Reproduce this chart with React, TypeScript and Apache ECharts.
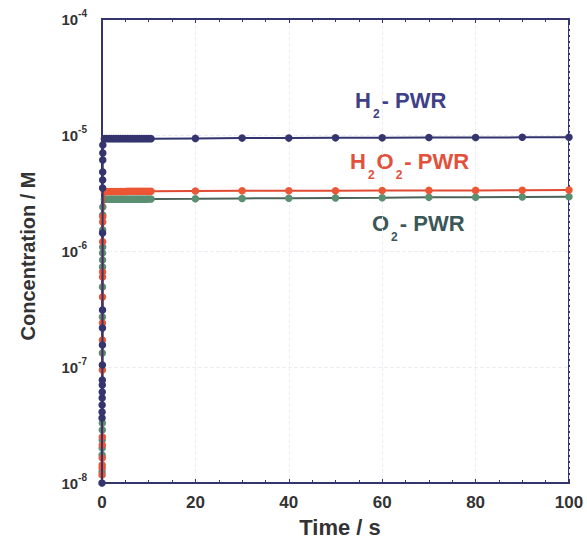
import React, { useEffect, useRef } from "react";
import * as echarts from "echarts";

// ---- axis ticks ----
const xTickLabels = [0, 20, 40, 60, 80, 100];
const yDecades = [1e-8, 1e-7, 1e-6, 1e-5, 1e-4];

// ---- early rise (all at t ~ 0 s) ----
const h2RiseTimes = [0, 0.01, 0.02, 0.03, 0.04, 0.05, 0.06, 0.07, 0.08, 0.09, 0.1, 0.11, 0.12, 0.13, 0.14, 0.15, 0.16, 0.17, 0.18];
const h2Rise = [1.0e-8, 3.63e-8, 4.09e-8, 4.7e-8, 5.4e-8, 6.08e-8, 7.0e-8, 7.73e-8, 1.04e-7, 1.55e-7, 2.17e-7, 3.1e-7, 1.43e-6, 3.49e-6, 4.09e-6, 4.8e-6, 6.08e-6, 7.0e-6, 8.2e-6];

const h2o2RiseTimes = [0.02, 0.03, 0.04, 0.05, 0.06, 0.07, 0.08, 0.09, 0.1, 0.11, 0.12, 0.13, 0.14, 0.15, 0.16];
const h2o2Rise = [1.17e-8, 1.35e-8, 1.43e-8, 1.64e-8, 2.13e-8, 2.49e-8, 9.42e-8, 1.71e-7, 2.39e-7, 4.01e-7, 5.97e-7, 6.59e-7, 1.2e-6, 1.78e-6, 1.97e-6];

const o2RiseTimes = [0.02, 0.03, 0.04, 0.05, 0.06, 0.07, 0.08, 0.09, 0.1, 0.11, 0.12, 0.13, 0.14, 0.15, 0.16, 0.17];
const o2Rise = [1.25e-8, 1.74e-8, 2.0e-8, 2.35e-8, 2.87e-8, 3.29e-8, 1.32e-7, 2.7e-7, 4.89e-7, 7.28e-7, 8.36e-7, 9.62e-7, 1.08e-6, 1.52e-6, 2.04e-6, 2.39e-6];

// ---- plateau ----
const plateauTimes = [0.5, 1, 1.5, 2, 2.5, 3, 3.5, 4, 4.5, 5, 5.5, 6, 6.5, 7, 7.5, 8, 8.5, 9, 9.5, 10, 10.5, 20, 30, 40, 50, 60, 70, 80, 90, 100];
const h2Plateau = [9.3e-6, 9.3e-6, 9.3e-6, 9.3e-6, 9.3e-6, 9.3e-6, 9.3e-6, 9.3e-6, 9.3e-6, 9.3e-6, 9.3e-6, 9.3e-6, 9.3e-6, 9.3e-6, 9.3e-6, 9.3e-6, 9.3e-6, 9.3e-6, 9.3e-6, 9.3e-6, 9.3e-6, 9.35e-6, 9.4e-6, 9.4e-6, 9.45e-6, 9.45e-6, 9.5e-6, 9.5e-6, 9.55e-6, 9.55e-6];
const h2o2Plateau = [3.26e-6, 3.26e-6, 3.26e-6, 3.26e-6, 3.26e-6, 3.26e-6, 3.26e-6, 3.26e-6, 3.26e-6, 3.26e-6, 3.27e-6, 3.27e-6, 3.27e-6, 3.27e-6, 3.27e-6, 3.27e-6, 3.27e-6, 3.27e-6, 3.27e-6, 3.27e-6, 3.27e-6, 3.29e-6, 3.3e-6, 3.31e-6, 3.31e-6, 3.32e-6, 3.33e-6, 3.33e-6, 3.34e-6, 3.35e-6];
const o2Plateau = [2.8e-6, 2.8e-6, 2.8e-6, 2.8e-6, 2.8e-6, 2.8e-6, 2.8e-6, 2.8e-6, 2.8e-6, 2.8e-6, 2.8e-6, 2.8e-6, 2.8e-6, 2.8e-6, 2.8e-6, 2.8e-6, 2.8e-6, 2.8e-6, 2.8e-6, 2.81e-6, 2.81e-6, 2.82e-6, 2.84e-6, 2.85e-6, 2.87e-6, 2.88e-6, 2.9e-6, 2.91e-6, 2.92e-6, 2.94e-6];

const FONT = "Liberation Sans, Arial, sans-serif";
const NAVY = "#34346e";
const RED = "#ec5634";
const GREEN = "#5a8f72";

function pairs(t: number[], v: number[]) {
  return t.map((x, i) => [x, v[i]]);
}

function makeSeries(name: string, rt: number[], rv: number[], pv: number[], color: string, lineColor: string, z: number) {
  return {
    name,
    type: "line",
    data: [...pairs(rt, rv), ...pairs(plateauTimes, pv)],
    symbol: "circle",
    symbolSize: 7.5,
    showSymbol: true,
    showAllSymbol: true,
    clip: false,
    z,
    itemStyle: { color },
    lineStyle: { color: lineColor, width: 2 },
  };
}

function chemLabel(text: string, x: number, y: number, color: string) {
  return {
    type: "text",
    x,
    y,
    style: {
      text,
      verticalAlign: "middle",
      rich: {
        a: { fontSize: 22, fontWeight: "bold", fill: color, fontFamily: FONT },
        s: { fontSize: 12, fontWeight: "bold", fill: color, fontFamily: FONT, padding: [28, 2, 0, 2] },
      },
    },
  };
}

export default function App() {
  const ref = useRef<HTMLDivElement>(null);
  useEffect(() => {
    document.body.style.margin = "0";
    const chart = echarts.init(ref.current!, null, { renderer: "svg" });
    const option: any = {
      animation: false,
      backgroundColor: "#ffffff",
      grid: {
        left: 102,
        right: 18,
        top: 19,
        bottom: 56,
        show: true,
        borderColor: NAVY,
        borderWidth: 2,
      },
      xAxis: [
        {
          type: "value",
          min: xTickLabels[0],
          max: xTickLabels[xTickLabels.length - 1],
          interval: 20,
          axisLine: { show: true, lineStyle: { color: NAVY, width: 2 } },
          axisTick: { show: true, inside: true, length: 4, lineStyle: { color: NAVY } },
          minorTick: { show: true, splitNumber: 4, length: 3, lineStyle: { color: NAVY } },
          axisLabel: {
            margin: 11,
            fontSize: 17,
            fontWeight: "bold",
            color: "#333333",
            fontFamily: FONT,
          },
          splitLine: { show: true, lineStyle: { color: "#eceef4", type: "dashed", width: 1 } },
        },
        {
          type: "value",
          position: "top",
          min: xTickLabels[0],
          max: xTickLabels[xTickLabels.length - 1],
          interval: 20,
          axisLine: { show: true, lineStyle: { color: NAVY, width: 2 } },
          axisTick: { show: true, inside: true, length: 4, lineStyle: { color: NAVY } },
          minorTick: { show: true, splitNumber: 4, length: 3, lineStyle: { color: NAVY } },
          axisLabel: { show: false },
          splitLine: { show: false },
        },
      ],
      yAxis: {
        type: "log",
        logBase: 10,
        min: yDecades[0],
        max: yDecades[yDecades.length - 1],
        axisLine: { show: true, lineStyle: { color: NAVY, width: 2 } },
        axisTick: { show: false },
        axisLabel: {
          margin: 15,
          color: "#333333",
          fontFamily: FONT,
          formatter: (v: number) => `{m|10}{s|${Math.round(Math.log10(v))}}`,
          rich: {
            m: { fontSize: 15, fontWeight: "bold", color: "#333333", fontFamily: FONT },
            s: { fontSize: 10, fontWeight: "bold", color: "#333333", fontFamily: FONT, padding: [0, 0, 12, 0] },
          },
        },
        splitLine: { show: true, lineStyle: { color: "#eceef4", type: "dashed", width: 1 } },
      },
      series: [
        makeSeries("O2", o2RiseTimes, o2Rise, o2Plateau, GREEN, "#4b6358", 3),
        makeSeries("H2O2", h2o2RiseTimes, h2o2Rise, h2o2Plateau, RED, "#e04a32", 4),
        makeSeries("H2", h2RiseTimes, h2Rise, h2Plateau, NAVY, NAVY, 5),
      ],
      graphic: [
        chemLabel("{a|H}{s|2}{a|- PWR}", 355, 100, "#404088"),
        chemLabel("{a|H}{s|2}{a|O}{s|2}{a|- PWR}", 350, 161, "#e2513c"),
        chemLabel("{a|O}{s|2}{a|- PWR}", 372, 223, "#3b5757"),
        {
          type: "text",
          x: 340,
          y: 527,
          style: {
            text: "Time / s",
            align: "center",
            verticalAlign: "middle",
            fontSize: 22,
            fontWeight: "bold",
            fill: "#333333",
            fontFamily: FONT,
          },
        },
        {
          type: "text",
          x: 28,
          y: 256,
          rotation: Math.PI / 2,
          style: {
            text: "Concentration / M",
            align: "center",
            verticalAlign: "middle",
            fontSize: 20,
            fontWeight: "bold",
            fill: "#333333",
            fontFamily: FONT,
          },
        },
      ],
    };
    chart.setOption(option);
    return () => chart.dispose();
  }, []);
  return <div ref={ref} style={{ width: 587, height: 539 }} />;
}
